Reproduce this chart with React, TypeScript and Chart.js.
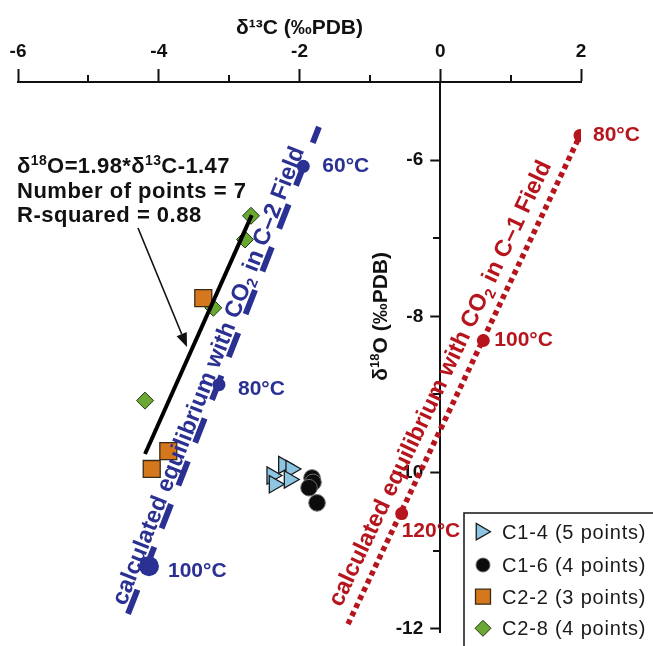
import React, { useEffect, useRef } from 'react';
import { Chart, registerables } from 'chart.js';

Chart.register(...registerables);

// ---------- axes ----------
const X_MIN = -6;
const X_MAX = 2;
const Y_MIN = -12.05;
const Y_MAX = -5;
const X_TICKS = [-6, -4, -2, 0, 2];
const X_MINOR_TICKS = [-5, -3, -1, 1];
const Y_TICKS = [-12, -10, -8, -6];
const Y_MINOR_TICKS = [-11, -9, -7];
const X_TITLE = 'δ¹³C (‰PDB)';
const Y_TITLE_PARTS = ['δ', '18', 'O (‰PDB)'];

// ---------- samples (δ13C, δ18O) ----------
const C1_4: [number, number][] = [
  [-2.391, -10.038],
  [-2.225, -9.903],
  [-2.121, -9.954],
  [-2.358, -10.15],
  [-2.145, -10.088],
];
const C1_6: [number, number][] = [
  [-1.822, -10.069],
  [-1.808, -10.125],
  [-1.865, -10.194],
  [-1.751, -10.388],
];
const C2_2: [number, number][] = [
  [-3.367, -7.766],
  [-3.864, -9.725],
  [-4.1, -9.954],
];
const C2_8: [number, number][] = [
  [-2.689, -6.713],
  [-2.774, -7.016],
  [-3.225, -7.891],
  [-4.195, -9.079],
];
const SERIES_LABELS = ['C1-4 (5 points)', 'C1-6 (4 points)', 'C2-2 (3 points)', 'C2-8 (4 points)'];

// ---------- regression ----------
const REGRESSION_LINE: [number, number][] = [
  [-4.195, -9.763],
  [-2.679, -6.704],
];
const REGRESSION_EQ = ['δ', '18', 'O=1.98*δ', '13', 'C-1.47'];
const REGRESSION_N = 'Number of points = 7';
const REGRESSION_R2 = 'R-squared = 0.88';

// ---------- calculated equilibrium fields ----------
const C2_FIELD_LINE: [number, number][] = [
  [-4.437, -11.81],
  [-1.723, -5.575],
];
const C2_FIELD_POINTS: [number, number][] = [
  [-1.946, -6.079],
  [-3.144, -8.875],
  [-4.139, -11.2],
];
const C2_FIELD_TEMPS = ['60°C', '80°C', '100°C'];
const C2_FIELD_TEXT = ['calculated equilibrium with CO', '2', ' in C–2 Field'];

const C1_FIELD_LINE: [number, number][] = [
  [-1.311, -11.94],
  [1.986, -5.684],
];
const C1_FIELD_POINTS: [number, number][] = [
  [1.986, -5.684],
  [0.612, -8.309],
  [-0.548, -10.525],
];
const C1_FIELD_TEMPS = ['80°C', '100°C', '120°C'];
const C1_FIELD_TEXT = ['calculated equilibrium with CO', '2', ' in C–1 Field'];

// ---------- styles ----------
const FONT = "'Liberation Sans', Arial, Helvetica, sans-serif";
const NAVY = '#2b3192';
const RED = '#b7151d';
const INK = '#111111';

const pts = (a: [number, number][]) => a.map(([x, y]) => ({ x, y }));

type Seg = { t: string; k?: 'sup' | 'sub' };

function drawRich(
  ctx: CanvasRenderingContext2D,
  segs: Seg[],
  x: number,
  y: number,
  size: number,
  weight: string,
  align: 'left' | 'center',
  spacing = 0
) {
  const small = Math.round(size * 0.62);
  const fN = `${weight} ${size}px ${FONT}`;
  const fS = `${weight} ${small}px ${FONT}`;
  (ctx as any).letterSpacing = `${spacing}px`;
  let total = 0;
  const widths = segs.map((s) => {
    ctx.font = s.k ? fS : fN;
    const w = ctx.measureText(s.t).width;
    total += w;
    return w;
  });
  let cx = align === 'center' ? x - total / 2 : x;
  ctx.textAlign = 'left';
  ctx.textBaseline = 'alphabetic';
  segs.forEach((s, i) => {
    ctx.font = s.k ? fS : fN;
    const dy = s.k === 'sup' ? -size * 0.36 : s.k === 'sub' ? size * 0.2 : 0;
    ctx.fillText(s.t, cx, y + dy);
    cx += widths[i];
  });
  (ctx as any).letterSpacing = '0px';
}

function drawMarker(
  ctx: CanvasRenderingContext2D,
  style: string,
  x: number,
  y: number,
  fill: string,
  stroke: string,
  lw: number
) {
  ctx.beginPath();
  if (style === 'triangle') {
    const r = 9.5;
    ctx.moveTo(x + r, y);
    ctx.lineTo(x - r / 2, y - r * 0.866);
    ctx.lineTo(x - r / 2, y + r * 0.866);
    ctx.closePath();
  } else if (style === 'circle') {
    ctx.arc(x, y, 7, 0, Math.PI * 2);
  } else if (style === 'rect') {
    ctx.rect(x - 7.5, y - 7.5, 15, 15);
  } else {
    const r = 8;
    ctx.moveTo(x - r, y);
    ctx.lineTo(x, y - r);
    ctx.lineTo(x + r, y);
    ctx.lineTo(x, y + r);
    ctx.closePath();
  }
  ctx.fillStyle = fill;
  ctx.fill();
  ctx.lineWidth = lw;
  ctx.strokeStyle = stroke;
  ctx.stroke();
}

const annotations = {
  id: 'annotations',
  afterLayout(chart: any) {
    const xs = chart.scales.x;
    const ys = chart.scales.y;
    const px = xs.getPixelForValue(0);
    ys.left = px - 80;
    ys.right = px;
    ys.width = 80;
  },
  afterDraw(chart: any) {
    const ctx: CanvasRenderingContext2D = chart.ctx;
    const ca = chart.chartArea;
    const xs = chart.scales.x;
    const ys = chart.scales.y;
    const X = (v: number) => xs.getPixelForValue(v);
    const Y = (v: number) => ys.getPixelForValue(v);
    const axisX = Math.round(X(0));
    ctx.save();

    // minor ticks
    ctx.strokeStyle = INK;
    ctx.lineWidth = 2;
    X_MINOR_TICKS.forEach((v) => {
      const p = Math.round(X(v));
      ctx.beginPath();
      ctx.moveTo(p, ca.top);
      ctx.lineTo(p, ca.top - 7);
      ctx.stroke();
    });
    Y_MINOR_TICKS.forEach((v) => {
      const p = Math.round(Y(v));
      ctx.beginPath();
      ctx.moveTo(axisX, p);
      ctx.lineTo(axisX - 7, p);
      ctx.stroke();
    });

    // y title
    ctx.fillStyle = INK;
    ctx.save();
    ctx.translate(axisX - 60, Y(-8));
    ctx.rotate(-Math.PI / 2);
    drawRich(ctx, [{ t: Y_TITLE_PARTS[0] }, { t: Y_TITLE_PARTS[1], k: 'sup' }, { t: Y_TITLE_PARTS[2] }], 0, 7, 21, 'bold', 'center');
    ctx.restore();

    // temperature labels
    const blueOff = [
      [19, 0],
      [19, 5],
      [19, 5],
    ];
    const redOff = [
      [13, 0],
      [11, 0],
      [0, 18],
    ];
    ctx.font = `bold 21px ${FONT}`;
    ctx.textAlign = 'left';
    ctx.textBaseline = 'middle';
    ctx.fillStyle = NAVY;
    C2_FIELD_POINTS.forEach(([x, y], i) => {
      ctx.fillText(C2_FIELD_TEMPS[i], X(x) + blueOff[i][0], Y(y) + blueOff[i][1]);
    });
    ctx.fillStyle = RED;
    C1_FIELD_POINTS.forEach(([x, y], i) => {
      ctx.fillText(C1_FIELD_TEMPS[i], X(x) + redOff[i][0], Y(y) + redOff[i][1]);
    });

    // rotated field captions
    const fieldText = (line: [number, number][], parts: string[], color: string, t: number, d: number) => {
      const x0 = X(line[0][0]);
      const y0 = Y(line[0][1]);
      const x1 = X(line[1][0]);
      const y1 = Y(line[1][1]);
      const a = Math.atan2(y1 - y0, x1 - x0);
      const nx = Math.sin(a);
      const ny = -Math.cos(a);
      const cx = x0 + (x1 - x0) * t + nx * d;
      const cy = y0 + (y1 - y0) * t + ny * d;
      ctx.save();
      ctx.translate(cx, cy);
      ctx.rotate(a);
      ctx.fillStyle = color;
      drawRich(ctx, [{ t: parts[0] }, { t: parts[1], k: 'sub' }, { t: parts[2] }], 0, 8, 23.5, 'bold', 'center');
      ctx.restore();
    };
    fieldText(C2_FIELD_LINE, C2_FIELD_TEXT, NAVY, 0.48, 13);
    fieldText(C1_FIELD_LINE, C1_FIELD_TEXT, RED, 0.475, 21);

    // regression statistics
    ctx.fillStyle = INK;
    const tx = ca.left - 1;
    drawRich(
      ctx,
      [
        { t: REGRESSION_EQ[0] },
        { t: REGRESSION_EQ[1], k: 'sup' },
        { t: REGRESSION_EQ[2] },
        { t: REGRESSION_EQ[3], k: 'sup' },
        { t: REGRESSION_EQ[4] },
      ],
      tx,
      ca.top + 91,
      22,
      'bold',
      'left',
      0.4
    );
    drawRich(ctx, [{ t: REGRESSION_N }], tx, ca.top + 116, 22, 'bold', 'left', 0.5);
    drawRich(ctx, [{ t: REGRESSION_R2 }], tx, ca.top + 140, 22, 'bold', 'left', 0.5);

    // arrow
    const ax0 = ca.left + 120;
    const ay0 = ca.top + 146;
    const ax1 = ca.left + 169;
    const ay1 = ca.top + 265;
    const ang = Math.atan2(ay1 - ay0, ax1 - ax0);
    const hl = 14;
    const hw = 5.5;
    const bx = ax1 - Math.cos(ang) * hl;
    const by = ay1 - Math.sin(ang) * hl;
    ctx.strokeStyle = INK;
    ctx.lineWidth = 1.6;
    ctx.beginPath();
    ctx.moveTo(ax0, ay0);
    ctx.lineTo(bx, by);
    ctx.stroke();
    ctx.beginPath();
    ctx.moveTo(ax1, ay1);
    ctx.lineTo(bx + Math.sin(ang) * hw, by - Math.cos(ang) * hw);
    ctx.lineTo(bx - Math.sin(ang) * hw, by + Math.cos(ang) * hw);
    ctx.closePath();
    ctx.fillStyle = INK;
    ctx.fill();

    // legend
    const lx = 464;
    const ly = 513;
    ctx.fillStyle = '#ffffff';
    ctx.fillRect(lx, ly, 260, 200);
    ctx.strokeStyle = '#222';
    ctx.lineWidth = 1.6;
    ctx.strokeRect(lx, ly, 260, 200);
    const rows = [18.7, 52, 83.7, 115.3];
    const legendSets = chart.data.datasets.filter((d: any) => SERIES_LABELS.includes(d.label));
    SERIES_LABELS.forEach((lab, i) => {
      const ds = legendSets.find((d: any) => d.label === lab);
      const cy = ly + rows[i];
      const mx = ds.pointStyle === 'triangle' ? lx + 17 : lx + 19;
      drawMarker(ctx, ds.pointStyle, mx, cy, ds.backgroundColor, ds.borderColor, ds.borderWidth);
      ctx.fillStyle = '#1a1a1a';
      drawRich(ctx, [{ t: lab }], lx + 38, cy + 7, 20, 'normal', 'left', 0.8);
    });

    ctx.restore();
  },
};

export default function App() {
  const ref = useRef<HTMLCanvasElement>(null);
  useEffect(() => {
    const canvas = ref.current!;
    const chart = new Chart(canvas, {
      type: 'scatter',
      data: {
        datasets: [
          {
            label: 'C-2 field',
            data: pts(C2_FIELD_LINE),
            showLine: true,
            borderColor: NAVY,
            borderWidth: 6,
            borderDash: [26, 20],
            borderCapStyle: 'butt',
            pointRadius: 0,
            order: 20,
          } as any,
          {
            label: 'C-1 field',
            data: pts(C1_FIELD_LINE),
            showLine: true,
            borderColor: RED,
            borderWidth: 5.5,
            borderDash: [5, 4],
            borderCapStyle: 'butt',
            pointRadius: 0,
            order: 20,
          },
          {
            label: 'C-2 temps',
            data: pts(C2_FIELD_POINTS),
            backgroundColor: NAVY,
            borderColor: NAVY,
            borderWidth: 0,
            pointRadius: [6.5, 6.5, 10],
            order: 15,
          },
          {
            label: 'C-1 temps',
            data: pts(C1_FIELD_POINTS),
            backgroundColor: RED,
            borderColor: RED,
            borderWidth: 0,
            pointRadius: 6.5,
            order: 15,
          },
          {
            label: SERIES_LABELS[0],
            data: pts(C1_4),
            pointStyle: 'triangle',
            rotation: 90,
            backgroundColor: '#8cc6e3',
            borderColor: '#1a1a1a',
            borderWidth: 1.3,
            pointRadius: 10,
            order: 6,
          } as any,
          {
            label: SERIES_LABELS[1],
            data: pts(C1_6),
            pointStyle: 'circle',
            backgroundColor: '#0c0c0c',
            borderColor: '#6a6a6a',
            borderWidth: 1,
            pointRadius: 8.3,
            order: 5,
          },
          {
            label: SERIES_LABELS[2],
            data: pts(C2_2),
            pointStyle: 'rect',
            backgroundColor: '#d5781d',
            borderColor: '#3b2a18',
            borderWidth: 1.3,
            pointRadius: 12,
            order: 6,
          },
          {
            label: SERIES_LABELS[3],
            data: pts(C2_8),
            pointStyle: 'rectRot',
            backgroundColor: '#6aa833',
            borderColor: '#1e3a10',
            borderWidth: 1,
            pointRadius: 8.5,
            order: 6,
          },
          {
            label: 'regression',
            data: pts(REGRESSION_LINE),
            showLine: true,
            borderColor: '#000000',
            borderWidth: 4,
            pointRadius: 0,
            order: 1,
          },
        ],
      },
      options: {
        animation: false,
        responsive: false,
        events: [],
        layout: { padding: { left: 18, right: 72, top: 0, bottom: 0 } },
        plugins: { legend: { display: false }, tooltip: { enabled: false } },
        scales: {
          x: {
            type: 'linear',
            position: 'top',
            min: X_MIN,
            max: X_MAX,
            afterBuildTicks: (s: any) => {
              s.ticks = X_TICKS.map((v) => ({ value: v }));
            },
            afterFit: (s: any) => {
              s.height = 82;
              s.paddingLeft = 0;
              s.paddingRight = 0;
            },
            grid: { drawOnChartArea: false, drawTicks: true, tickLength: 13, tickWidth: 2, tickColor: INK },
            border: { display: true, color: INK, width: 2 },
            ticks: {
              color: INK,
              padding: 6,
              maxRotation: 0,
              autoSkip: false,
              font: { family: FONT, size: 19, weight: 'bold' },
            },
            title: {
              display: true,
              text: X_TITLE,
              color: INK,
              font: { family: FONT, size: 21, weight: 'bold' },
              padding: { top: 16, bottom: 0 },
            },
          },
          y: {
            type: 'linear',
            position: 'left',
            min: Y_MIN,
            max: Y_MAX,
            afterBuildTicks: (s: any) => {
              s.ticks = Y_TICKS.map((v) => ({ value: v }));
            },
            afterFit: (s: any) => {
              s.width = 0;
              s.paddingTop = 0;
              s.paddingBottom = 0;
            },
            grid: { drawOnChartArea: false, drawTicks: true, tickLength: 10, tickWidth: 2, tickColor: INK },
            border: { display: true, color: INK, width: 2 },
            ticks: {
              color: INK,
              padding: 7,
              autoSkip: false,
              font: { family: FONT, size: 19, weight: 'bold' },
            },
            title: { display: false },
          },
        },
      } as any,
      plugins: [annotations],
    });
    return () => chart.destroy();
  }, []);
  return (
    <div style={{ position: 'absolute', left: 0, top: 0, width: 653, height: 646, background: '#ffffff' }}>
      <canvas ref={ref} width={653} height={646} style={{ display: 'block', width: 653, height: 646 }} />
    </div>
  );
}
